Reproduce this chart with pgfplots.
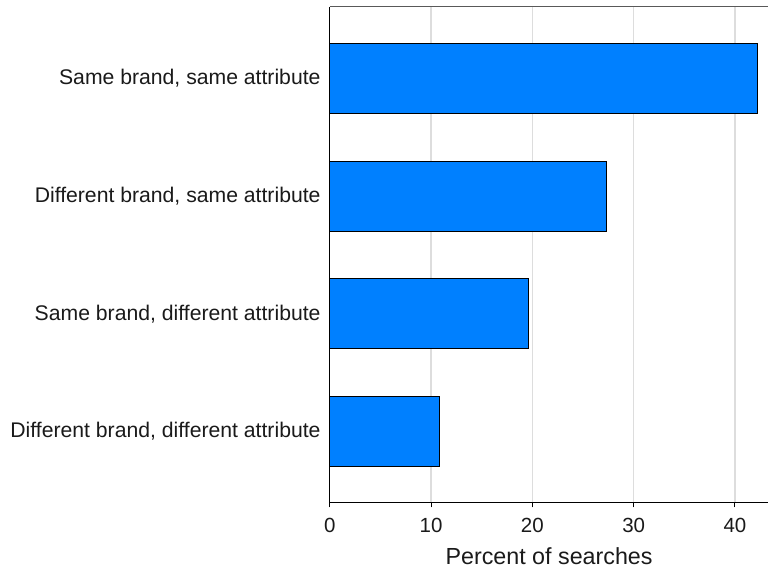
\documentclass[border=0pt]{standalone}
\usepackage{pgfplots}
\pgfplotsset{compat=1.18}
\usepackage{fontspec}
\setmainfont{Liberation Sans}
\definecolor{barblue}{RGB}{0,128,255}
\definecolor{gridgray}{RGB}{221,221,221}
\definecolor{txt}{RGB}{26,26,26}
\begin{document}
\fontsize{20.5}{24}\selectfont
\begin{tikzpicture}
\begin{axis}[
  scale only axis,
  width=439pt, height=496pt,
  xmin=0, xmax=43.3,
  ymin=0.4, ymax=4.61,
  axis x line*=bottom,
  axis y line*=left,
  axis line style={black, line width=1.2pt},
  xtick={0,10,20,30,40},
  ytick={1,2,3,4},
  yticklabels={{Different brand, different attribute}, {Same brand, different attribute}, {Different brand, same attribute}, {Same brand, same attribute}},
  ytick style={draw=none},
  x tick style={black, line width=1pt},
  tick align=outside,
  major tick length=5pt,
  xmajorgrids,
  major grid style={gridgray, line width=1.5pt},
  /pgf/number format/assume math mode=true,
  tick label style={font=\fontsize{20.5}{24}\selectfont, text=txt},
  yticklabel style={font=\fontsize{21.2}{25}\selectfont, xshift=2.8pt},
  xticklabel style={yshift=-4pt},
  xlabel={Percent of searches},
  xlabel style={font=\fontsize{23.3}{27}\selectfont, text=txt, yshift=-1pt},
  xbar,
  bar width=70pt,
  clip=false,
]
\addplot[fill=barblue, draw=black, line width=1pt] coordinates {
  (10.83,1) (19.6,2) (27.3,3) (42.26,4)
};
\draw[gray!70!black, line width=1pt] (rel axis cs:0,1) -- (rel axis cs:1,1);
\end{axis}
\path[use as bounding box] (-330pt,-68.3pt) rectangle (439pt,502.7pt);
\end{tikzpicture}
\end{document}
